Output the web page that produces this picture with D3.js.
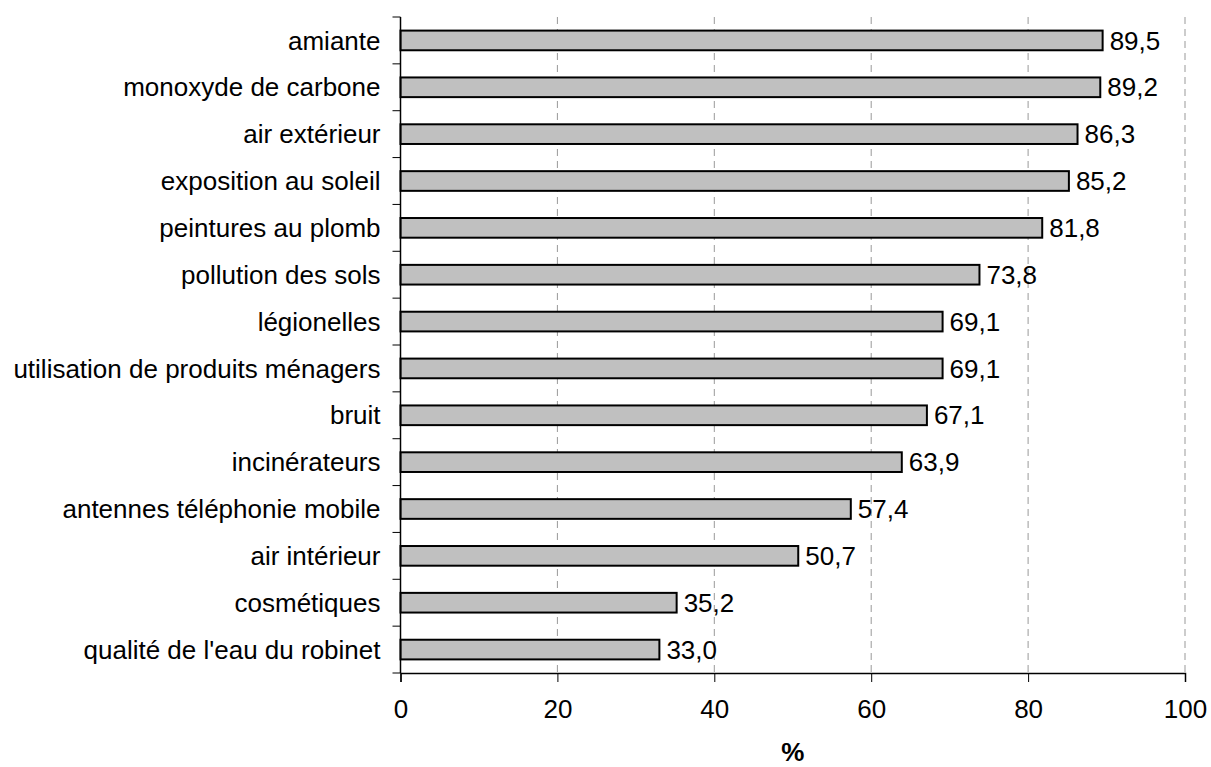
<!DOCTYPE html>
<html>
<head>
<meta charset="utf-8">
<script src="https://cdn.jsdelivr.net/npm/d3@7"></script>
<style>
  body { margin: 0; background: #fff; }
  svg { font-family: "Liberation Sans", Arial, sans-serif; }
</style>
</head>
<body>
<div id="chart"></div>
<script>
// data
const categories = [
  "amiante",
  "monoxyde de carbone",
  "air extérieur",
  "exposition au soleil",
  "peintures au plomb",
  "pollution des sols",
  "légionelles",
  "utilisation de produits ménagers",
  "bruit",
  "incinérateurs",
  "antennes téléphonie mobile",
  "air intérieur",
  "cosmétiques",
  "qualité de l'eau du robinet"
];
const values = [89.5, 89.2, 86.3, 85.2, 81.8, 73.8, 69.1, 69.1, 67.1, 63.9, 57.4, 50.7, 35.2, 33.0];
const xTicks = [0, 20, 40, 60, 80, 100];
const xTitle = "%";

const W = 1211, H = 767;
const margin = {top: 17, right: 26, bottom: 94, left: 400.5};
const width = W - margin.left - margin.right;
const height = H - margin.top - margin.bottom;
const fs = 26;

const svg = d3.select("#chart").append("svg")
  .attr("width", W)
  .attr("height", H);

const g = svg.append("g")
  .attr("transform", "translate(" + margin.left + "," + margin.top + ")");

const x = d3.scaleLinear().domain([0, 100]).range([0, width]);
const y = d3.scaleBand().domain(categories).range([0, height]).paddingInner(0.58).paddingOuter(0.29);

const fmt = v => v.toFixed(1).replace(".", ",");

// gridlines
g.append("g")
  .selectAll("line")
  .data(xTicks.slice(1))
  .enter().append("line")
  .attr("x1", d => x(d)).attr("x2", d => x(d))
  .attr("y1", 0).attr("y2", height)
  .attr("stroke", "#999")
  .attr("stroke-width", 1)
  .attr("stroke-dasharray", "7,5");

// bars
g.append("g")
  .selectAll("rect")
  .data(values)
  .enter().append("rect")
  .attr("x", 0)
  .attr("y", (d, i) => y(categories[i]))
  .attr("width", d => x(d))
  .attr("height", y.bandwidth())
  .attr("fill", "#c0c0c0")
  .attr("stroke", "#000")
  .attr("stroke-width", 2);

// value labels
g.append("g")
  .selectAll("text")
  .data(values)
  .enter().append("text")
  .attr("x", d => x(d) + 7)
  .attr("y", (d, i) => y(categories[i]) + y.bandwidth() / 2)
  .attr("dy", "0.35em")
  .attr("font-size", fs)
  .attr("fill", "#000")
  .text(d => fmt(d));

// y axis: ticks between categories
const yBound = d3.range(categories.length + 1).map(i => i * height / categories.length);
const yAxis = g.append("g");
yAxis.append("line")
  .attr("x1", 0).attr("x2", 0).attr("y1", 0).attr("y2", height)
  .attr("stroke", "#000").attr("stroke-width", 1.5);
yAxis.selectAll("line.tk")
  .data(yBound)
  .enter().append("line")
  .attr("class", "tk")
  .attr("x1", -8).attr("x2", 0)
  .attr("y1", d => d).attr("y2", d => d)
  .attr("stroke", "#000").attr("stroke-width", 1);
yAxis.selectAll("text")
  .data(categories)
  .enter().append("text")
  .attr("x", -20)
  .attr("y", d => y(d) + y.bandwidth() / 2)
  .attr("dy", "0.35em")
  .attr("text-anchor", "end")
  .attr("font-size", fs)
  .text(d => d);

// x axis
const xAxis = g.append("g")
  .attr("transform", "translate(0," + height + ")")
  .call(d3.axisBottom(x).tickValues(xTicks).tickSize(9).tickPadding(18).tickFormat(d3.format("d")));
xAxis.select(".domain").attr("stroke-width", 1.5);
xAxis.selectAll("text").attr("font-size", fs).attr("font-family", "Liberation Sans, Arial, sans-serif").attr("fill", "#000");

// x title
svg.append("text")
  .attr("x", margin.left + width / 2)
  .attr("y", 761)
  .attr("text-anchor", "middle")
  .attr("font-size", fs)
  .attr("font-weight", "bold")
  .text(xTitle);
</script>
</body>
</html>
